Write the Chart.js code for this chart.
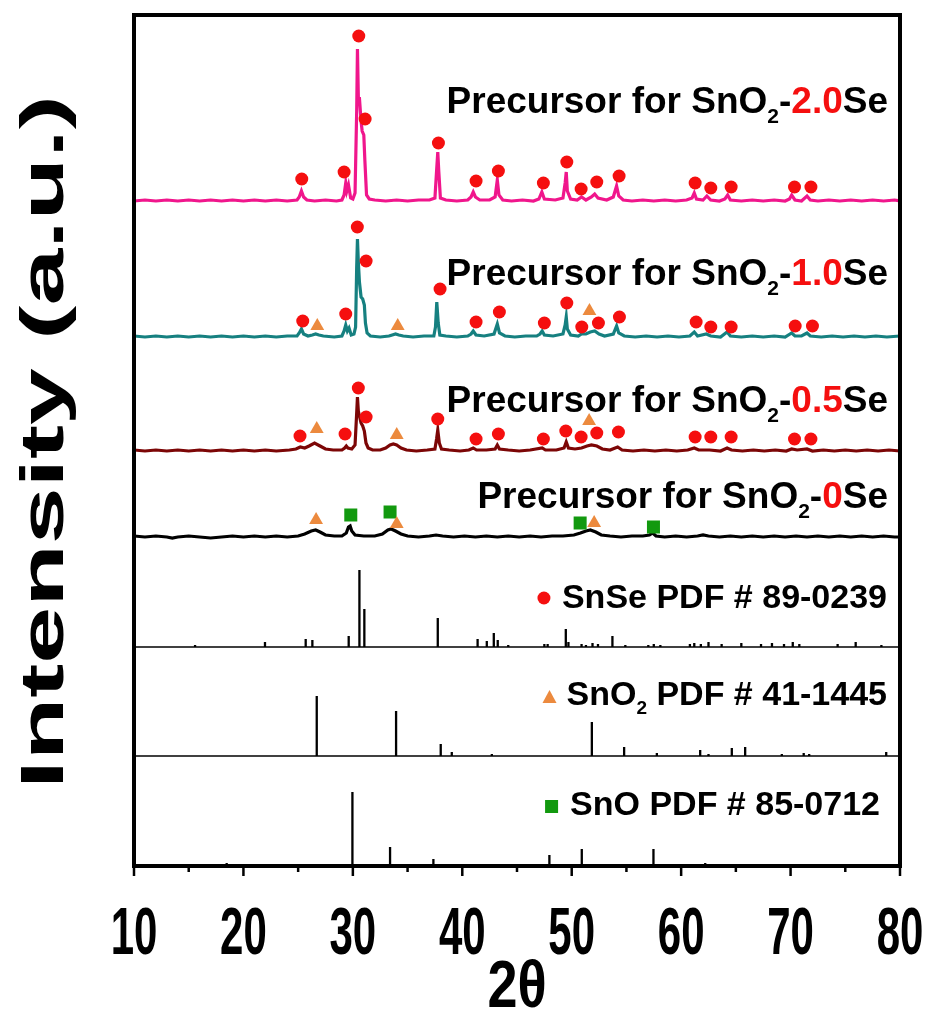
<!DOCTYPE html>
<html>
<head>
<meta charset="utf-8">
<script src="https://cdn.jsdelivr.net/npm/chart.js@4.4.0/dist/chart.umd.min.js"></script>
<style>
  body { margin: 0; background: #fff; }
  #wrap { width: 928px; height: 1011px; }
</style>
</head>
<body>
<div id="wrap"><canvas id="xrd" width="928" height="1011"></canvas></div>
<script>
// measured patterns: [2theta, intensity above own baseline]
var se20 = [[10,0],[11,1],[12,0],[13,1],[14,0],[15,1],[16,0],[17,1],[18,0],[19,1],[20,0],[21,1],[22,0],[23,1],[24,0],[24.9,1],[25.1,4],[25.3,10],[25.5,4],[25.8,1],[26.5,0],[27.5,1],[28.5,0],[29.0,1],[29.2,6],[29.35,18],[29.45,10],[29.6,16],[29.8,3],[30.0,2],[30.2,8],[30.35,90],[30.42,152],[30.5,104],[30.6,103],[30.75,80],[30.85,70],[31.0,66],[31.1,40],[31.25,6],[31.5,2],[32,1],[33,0],[34,1],[35,0],[36,1],[37,1],[37.5,3],[37.65,30],[37.76,49],[37.85,30],[38.0,3],[38.5,1],[39.5,0],[40.5,1],[40.8,4],[41.0,9],[41.2,4],[41.6,1],[42.5,1],[43.0,4],[43.2,21],[43.35,6],[43.7,1],[44.5,0],[45.5,1],[46.5,0],[47.0,2],[47.27,9],[47.5,2],[48.5,1],[49.2,3],[49.4,18],[49.5,29],[49.6,10],[49.9,2],[50.5,1],[50.9,4],[51.3,1],[51.8,4],[52.1,7],[52.4,3],[53.2,1],[53.8,4],[54.1,15],[54.3,5],[54.7,1],[55.5,0],[56.5,1],[57.5,0],[58.5,1],[59.5,0],[60.5,1],[61.0,3],[61.2,8],[61.4,2],[62.0,1],[62.35,5],[62.7,1],[63.5,0],[64.0,2],[64.25,6],[64.5,1],[65.5,0],[66.5,1],[67.5,0],[68.5,1],[69.5,0],[69.9,2],[70.1,6],[70.4,1],[71.0,0],[71.5,5],[71.8,1],[72.5,0],[73.5,1],[74.5,0],[75.5,1],[76.5,0],[77.5,1],[78.5,0],[79.5,1],[80,0]];
var se10 = [[10,1],[11,0],[12,1],[13,0],[14,1],[15,0],[16,1],[17,0],[18,1],[19,0],[20,1],[21,0],[22,1],[23,0],[24,1],[24.9,1],[25.1,4],[25.3,8],[25.5,3],[25.9,1],[26.3,2],[26.6,3],[26.9,2],[27.3,1],[28.3,0],[29.0,1],[29.2,6],[29.35,12],[29.5,6],[29.65,9],[29.85,2],[30.1,3],[30.25,10],[30.35,70],[30.42,98],[30.5,75],[30.6,55],[30.75,40],[30.9,38],[31.05,32],[31.15,14],[31.3,4],[31.6,1],[32.5,0],[33.3,1],[33.6,2],[33.9,3],[34.2,2],[34.6,1],[35.5,0],[36.5,1],[37.4,1],[37.55,10],[37.67,35],[37.8,14],[37.95,2],[38.5,1],[39.5,0],[40.5,1],[40.8,3],[41.0,6],[41.25,2],[42.0,1],[42.9,3],[43.2,13],[43.4,4],[43.9,1],[44.8,0],[45.8,1],[46.8,1],[47.1,3],[47.3,6],[47.5,2],[48.3,1],[49.2,3],[49.4,12],[49.5,20],[49.6,8],[49.9,2],[50.6,1],[50.9,3],[51.3,3],[51.7,5],[52.1,6],[52.5,3],[53.0,1],[53.8,3],[54.1,11],[54.3,4],[54.8,1],[55.8,0],[56.8,1],[57.8,0],[58.8,1],[59.8,0],[60.8,1],[61.2,5],[61.5,1],[62.3,3],[62.7,1],[63.6,0],[64.2,5],[64.5,1],[65.5,0],[66.5,1],[67.5,0],[68.5,1],[69.5,0],[70.1,4],[70.4,1],[71.0,1],[71.5,4],[71.8,1],[72.8,0],[73.8,1],[74.8,0],[75.8,1],[76.8,0],[77.8,1],[78.8,0],[80,1]];
var se05 = [[10,1],[11,0],[12,1],[13,0],[14,1],[15,0],[16,1],[17,0],[18,1],[19,0],[20,1],[21,0],[22,1],[23,0],[24.2,1],[24.8,2],[25.2,4],[25.6,3],[26.0,5],[26.5,8],[27.0,5],[27.5,2],[28.2,1],[29.0,1],[29.25,3],[29.4,5],[29.55,3],[29.9,2],[30.2,6],[30.35,38],[30.42,54],[30.5,40],[30.6,35],[30.75,28],[30.9,25],[31.05,20],[31.2,8],[31.4,3],[31.8,1],[32.5,1],[33.0,3],[33.4,6],[33.7,7],[34.0,6],[34.4,3],[34.9,1],[35.8,0],[36.8,1],[37.5,2],[37.65,12],[37.76,21],[37.9,8],[38.1,2],[38.8,1],[39.8,0],[40.6,1],[41.0,3],[41.3,1],[42.2,1],[43.0,2],[43.2,6],[43.4,2],[44.2,1],[45.2,0],[46.2,1],[47.3,3],[47.6,1],[48.6,1],[49.3,3],[49.5,9],[49.7,3],[50.3,2],[50.9,3],[51.4,5],[51.8,6],[52.3,5],[52.8,2],[53.5,1],[54.2,4],[54.6,1],[55.6,0],[56.6,1],[57.6,0],[58.6,1],[59.6,0],[60.6,1],[61.2,3],[61.6,1],[62.6,1],[63.6,0],[64.2,3],[64.6,1],[65.6,0],[66.6,1],[67.6,0],[68.6,1],[69.6,0],[70.1,2],[70.6,1],[71.5,2],[72.0,0],[73,1],[74,0],[75,1],[76,0],[77,1],[78,0],[79,1],[80,0]];
var se00 = [[10,1],[11,0],[12,1],[13,0],[13.5,-1],[14,0],[15,1],[16,0],[17,-1],[18,0],[19,1],[20,0],[21,1],[22,0],[23,1],[24,0],[25,1],[25.6,3],[26.2,6],[26.6,7],[27.0,5],[27.5,2],[28.3,1],[29.0,1],[29.4,4],[29.6,10],[29.75,11],[29.9,6],[30.2,2],[31.0,1],[32.0,1],[32.7,3],[33.2,7],[33.5,8],[33.9,6],[34.4,3],[35.0,1],[36.0,0],[37.0,1],[37.6,2],[38.2,1],[39.2,0],[40.2,1],[41.2,0],[42.2,1],[43.2,0],[44.2,1],[45.2,0],[46.2,1],[47.2,0],[48.2,1],[49.2,1],[50.2,2],[50.8,4],[51.3,6],[51.7,7],[52.2,5],[52.7,2],[53.5,1],[54.5,0],[55.5,1],[56.5,1],[57.1,2],[57.4,4],[57.7,1],[58.5,0],[59.5,1],[60.5,0],[61.5,1],[62.0,2],[62.5,1],[63.5,0],[64.5,1],[65.5,0],[66.5,1],[67.5,0],[68.5,1],[69.5,0],[70.5,1],[71.5,0],[72.5,1],[73.5,0],[74.5,1],[75.5,0],[76.5,1],[77.5,0],[78.5,1],[79.5,0],[80,0]];

// reference cards: [2theta, relative intensity]
var snsePdf = [[15.58,2],[21.97,5],[25.69,8],[26.3,7],[29.62,11],[30.6,77],[31.05,38],[37.76,29],[41.4,8],[42.24,6],[42.88,14],[43.24,7],[44.2,2],[47.5,3],[47.8,3],[49.46,18],[49.7,5],[50.9,3],[51.3,2],[51.9,4],[52.4,3],[53.72,11],[54.9,2],[57.0,2],[57.5,3],[58.1,2],[60.8,3],[61.2,4],[61.8,3],[62.5,5],[63.7,3],[65.5,4],[67.3,3],[68.3,4],[69.4,3],[70.2,5],[70.8,3],[74.3,3],[75.95,5],[78.3,2]];
var sno2Pdf = [[26.7,60],[33.95,45],[38.03,12],[39.04,4],[42.7,2],[51.84,34],[54.79,9],[57.78,3],[61.74,6],[62.5,2],[64.63,8],[65.85,9],[69.2,2],[71.2,3],[71.7,2],[78.74,4]];
var snoPdf = [[18.47,3],[29.96,74],[33.4,19],[37.36,7],[47.96,11],[50.92,17],[57.47,17],[62.2,3],[62.8,2],[78.04,2]];

// phase marks above the peaks: [2theta, stacked intensity]
var se20Circles = [[25.33,687],[29.2,694],[30.54,830],[31.12,747],[37.82,723],[41.26,685],[43.3,695],[47.41,683],[49.55,704],[50.86,677],[52.29,684],[54.33,690],[61.28,683],[62.71,678],[64.57,679],[70.36,679],[71.86,679]];
var se10Circles = [[25.42,545],[29.35,552],[30.41,639],[31.21,605],[37.97,577],[41.26,544],[43.39,554],[47.5,543],[49.55,563],[50.92,539],[52.44,543],[54.36,549],[61.37,544],[62.71,539],[64.57,539],[70.42,540],[72.0,540]];
var se10Triangles = [[26.75,540],[34.1,540],[51.62,555]];
var se05Circles = [[25.17,430],[29.29,432],[30.5,478],[31.21,449],[37.76,447],[41.26,427],[43.3,432],[47.41,427],[49.46,435],[50.86,429],[52.29,433],[54.27,434],[61.28,429],[62.71,429],[64.57,429],[70.36,427],[71.86,427]];
var se05Triangles = [[26.7,437],[34.01,431],[51.59,445]];
var se00Triangles = [[26.64,346],[34.01,342],[52.05,343]];
var se00Squares = [[29.81,351],[33.4,354],[50.77,343],[57.47,339]];

// stacking offsets (a.u.)
var offSe20 = 665, offSe10 = 529, offSe05 = 415, offSe00 = 329;
var offSnse = 219, offSno2 = 110, offSno = 0;

var xTicks = [10, 20, 30, 40, 50, 60, 70, 80];
var xMinorTicks = [15, 25, 35, 45, 55, 65, 75];

var RED = '#f50f0f', ORANGE = '#ec8a3e', GREEN = '#12990f';

function shift(arr, off) {
  return arr.map(function (p) { return { x: p[0], y: p[1] + off }; });
}
function sticks(arr, off) {
  var pts = [];
  arr.forEach(function (p) {
    pts.push({ x: p[0], y: off });
    pts.push({ x: p[0], y: off + p[1] });
    pts.push({ x: p[0], y: null });
  });
  return pts;
}
function lineSet(data, color, width) {
  return { data: data, showLine: true, borderColor: color, borderWidth: width, pointRadius: 0, tension: 0, order: 2 };
}
function markSet(arr, style, color, r) {
  return { data: shift(arr, 0), showLine: false, pointStyle: style, pointRadius: r, pointHoverRadius: r,
           backgroundColor: color, borderColor: color, borderWidth: 0, order: 0 };
}

var datasets = [
  lineSet(shift(se20, offSe20), '#f0168c', 3.2),
  lineSet(shift(se10, offSe10), '#168080', 3.2),
  lineSet(shift(se05, offSe05), '#7c0606', 3.2),
  lineSet(shift(se00, offSe00), '#000000', 3.2),
  lineSet([{ x: 10, y: offSnse }, { x: 80, y: offSnse }], '#000', 1.6),
  lineSet([{ x: 10, y: offSno2 }, { x: 80, y: offSno2 }], '#000', 1.6),
  lineSet(sticks(snsePdf, offSnse), '#000', 2.3),
  lineSet(sticks(sno2Pdf, offSno2), '#000', 2.3),
  lineSet(sticks(snoPdf, offSno), '#000', 2.3),
  markSet(se20Circles, 'circle', RED, 6.5),
  markSet(se10Circles, 'circle', RED, 6.5),
  markSet(se05Circles, 'circle', RED, 6.5),
  markSet(se10Triangles, 'triangle', ORANGE, 8),
  markSet(se05Triangles, 'triangle', ORANGE, 8),
  markSet(se00Triangles, 'triangle', ORANGE, 8),
  markSet(se00Squares, 'rect', GREEN, 9.2)
];

var FONT = '"Liberation Sans", Arial, sans-serif';

// text with a subscript / coloured part, right aligned
function richText(ctx, parts, right, base, size) {
  var w = 0;
  parts.forEach(function (p) {
    ctx.font = 'bold ' + (p.sub ? Math.round(size * 0.56) : size) + 'px ' + FONT;
    p.w = ctx.measureText(p.t).width;
    w += p.w;
  });
  var x = right - w;
  parts.forEach(function (p) {
    ctx.font = 'bold ' + (p.sub ? Math.round(size * 0.56) : size) + 'px ' + FONT;
    ctx.fillStyle = p.c || '#000';
    ctx.fillText(p.t, x, p.sub ? base + size * 0.26 : base);
    x += p.w;
  });
  return right - w;
}

function precursor(num) {
  return [{ t: 'Precursor for SnO' }, { t: '2', sub: true }, { t: '-' }, { t: num, c: RED }, { t: 'Se' }];
}

var decor = {
  id: 'decor',
  afterDraw: function (chart) {
    var ctx = chart.ctx, a = chart.chartArea, xs = chart.scales.x;
    ctx.save();
    // frame
    ctx.strokeStyle = '#000';
    ctx.lineWidth = 4;
    ctx.strokeRect(a.left, a.top, a.right - a.left, a.bottom - a.top);
    // ticks
    ctx.lineWidth = 2.5;
    xTicks.forEach(function (v) {
      var px = xs.getPixelForValue(v);
      ctx.beginPath(); ctx.moveTo(px, a.bottom); ctx.lineTo(px, a.bottom + 10); ctx.stroke();
    });
    xMinorTicks.forEach(function (v) {
      var px = xs.getPixelForValue(v);
      ctx.beginPath(); ctx.moveTo(px, a.bottom); ctx.lineTo(px, a.bottom + 6); ctx.stroke();
    });
    // tick labels, tall bold digits
    ctx.fillStyle = '#000';
    ctx.textAlign = 'center';
    ctx.textBaseline = 'middle';
    xTicks.forEach(function (v) {
      ctx.save();
      ctx.translate(xs.getPixelForValue(v), 935);
      ctx.scale(1, 1.6);
      ctx.font = 'bold 42px ' + FONT;
      ctx.fillText(String(v), 0, 0);
      ctx.restore();
    });
    // axis titles
    ctx.save();
    ctx.translate((a.left + a.right) / 2, 989);
    ctx.scale(1, 1.22);
    ctx.font = 'bold 54px ' + FONT;
    ctx.fillText('2\u03b8', 0, 0);
    ctx.restore();
    ctx.save();
    ctx.translate(46, 442);
    ctx.rotate(-Math.PI / 2);
    ctx.scale(1.65, 1);
    ctx.font = 'bold 62px ' + FONT;
    ctx.fillText('Intensity (a.u.)', 0, 0);
    ctx.restore();

    // sample names
    ctx.textAlign = 'left';
    ctx.textBaseline = 'alphabetic';
    richText(ctx, precursor('2.0'), 888, 113, 37);
    richText(ctx, precursor('1.0'), 888, 285, 37);
    richText(ctx, precursor('0.5'), 888, 412, 37);
    richText(ctx, precursor('0'), 888, 508, 37);

    // reference card labels with their symbols
    var x1 = richText(ctx, [{ t: 'SnSe PDF # 89-0239' }], 887, 608, 34);
    ctx.fillStyle = RED;
    ctx.beginPath(); ctx.arc(x1 - 18, 598, 6.5, 0, Math.PI * 2); ctx.fill();
    var x2 = richText(ctx, [{ t: 'SnO' }, { t: '2', sub: true }, { t: ' PDF # 41-1445' }], 887, 705, 34);
    ctx.fillStyle = ORANGE;
    ctx.beginPath(); ctx.moveTo(x2 - 17, 690); ctx.lineTo(x2 - 10, 703); ctx.lineTo(x2 - 24, 703); ctx.closePath(); ctx.fill();
    var x3 = richText(ctx, [{ t: 'SnO PDF # 85-0712' }], 880, 815, 34);
    ctx.fillStyle = GREEN;
    ctx.fillRect(x3 - 25, 800, 13, 13);
    ctx.restore();
  }
};

new Chart(document.getElementById('xrd'), {
  type: 'scatter',
  data: { datasets: datasets },
  options: {
    responsive: false,
    devicePixelRatio: 1,
    animation: false,
    layout: { padding: { left: 134, right: 28, top: 15, bottom: 145 } },
    plugins: { legend: { display: false }, tooltip: { enabled: false } },
    scales: {
      x: { type: 'linear', min: 10, max: 80, display: false },
      y: { type: 'linear', min: 0, max: 851, display: false }
    }
  },
  plugins: [decor]
});
</script>
</body>
</html>
